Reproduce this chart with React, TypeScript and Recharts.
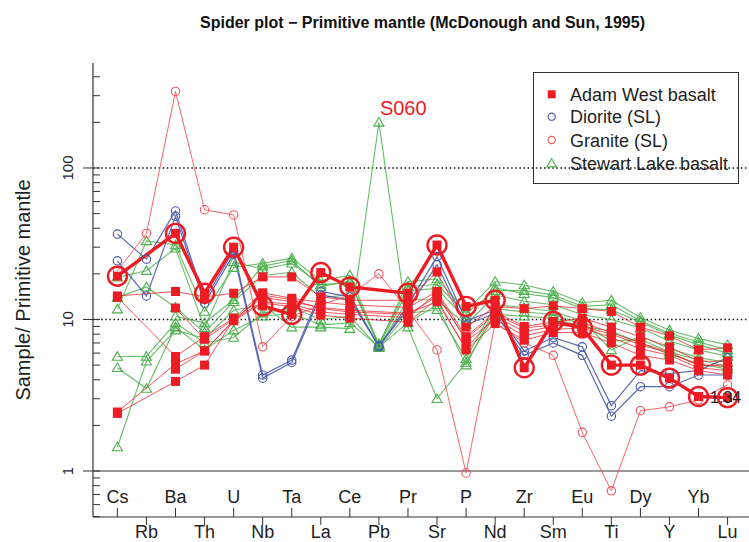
import React from 'react';
import { LineChart, Line, XAxis, YAxis, ReferenceLine, Legend, LabelList } from 'recharts';

// ---- categories (elements) ----
const elements = ['Cs', 'Rb', 'Ba', 'Th', 'U', 'Nb', 'Ta', 'La', 'Ce', 'Pb', 'Pr', 'Sr', 'P', 'Nd', 'Zr', 'Sm', 'Eu', 'Ti', 'Dy', 'Y', 'Yb', 'Lu'];

// ---- Stewart Lake basalt (green triangles) ----
const sl1 = [11.7, 33, 31, 11.3, 22, 23.5, 25.4, 18, 19.6, 6.8, 17.8, 18.5, 11.3, 17.8, 16.9, 15.3, 12.9, 13.4, 10.3, 8.5, 7.5, 6.8];
const sl2 = [19, 21, 29.5, 8.8, 24, 21.5, 23.5, 17, 17.5, 6.7, 15.5, 16, 10, 16.2, 14.8, 14, 11.8, 11.6, 9.6, 7.9, 6.8, 6.0];
const sl3 = [14, 16.4, 12, 8.2, 13.1, 19.5, 20.5, 14, 14.5, 6.6, 13.5, 13.5, 9.2, 14.5, 13.2, 12.5, 10.8, 10, 8.8, 7.2, 6.3, 5.7];
const sl4 = [5.7, 5.7, 9.5, 7.0, 7.6, 11, 12, 10, 10.5, 6.5, 11, 11.6, 5.5, 12.5, 12, 11.3, 9.8, 6.3, 7.8, 6.4, 5.6, 5.2];
const sl5 = [4.8, 3.5, 8.9, 6.3, 8.5, 10.5, 11, 9.2, 9.5, 6.6, 9.5, 12.5, 5.0, 11.8, 11.2, 10.8, 9.3, 7.2, 7.4, 6.1, 5.4, 4.9];
const slS060 = [1.44, 5.3, 8.5, 7.5, 11.5, 12.5, 8.9, 8.9, 8.7, 200, 8.9, 3.0, 5.2, 10.8, 10.5, 10.2, 9, 8.4, 7, 5.9, 5.1, 4.7];
const sl7 = [null, null, 10.5, 9.5, 13.5, 22.5, 24.5, 16.5, 18, 6.9, 16.5, 17, 11, 15.5, 15.5, 14.5, 12.2, 12.5, 9.8, 8.1, 7.1, 6.3];

// ---- Diorite (SL) (blue circles) ----
const di1 = [36.6, 25, 52, 13.5, 28.5, 4.3, 5.4, 15.3, 14.1, 6.6, 12.5, 26, 9.8, 11.5, 6.2, 7.6, 6.6, 2.7, 4.6, 4.4, 4.6, 5.6];
const di2 = [24.4, 14.3, 48, 12.8, 27, 4.1, 5.2, 14.5, 13.5, 6.7, 11.8, 23, 9.2, 11, 5.8, 7.0, 5.8, 2.3, 3.6, 3.6, 4.3, 4.3];

// ---- Granite (SL) (red open circles) ----
const gr1 = [21, 37, 320, 53, 49, 6.6, 10.5, 12.5, 14.5, 20, 11.5, 6.3, 0.97, 9.5, 7.0, 5.8, 1.8, 0.74, 2.5, 2.65, 2.95, 3.7];

// ---- Adam West basalt (red squares) ----
const aw1 = [14.3, null, 15.3, 14.1, 14.9, 19.1, 19.1, 14.1, 13.4, null, 13.4, 20.6, 8.9, 12.2, 11.8, 12.3, 11.8, 11.3, 8.9, 7.8, 6.3, 6.5];
const aw2 = [14.0, null, 5.7, 7.7, 10.2, 15.0, 13.8, 13.0, 12.5, null, 12.0, 15.3, 7.7, 11.2, 9.0, 9.6, 10.2, 8.9, 7.7, 6.6, 5.3, 5.3];
const aw3 = [2.4, null, 3.9, 5.0, 10.0, 14.0, 13.1, 12.0, 11.5, null, 11.0, 13.1, 6.45, 10.5, 8.3, 9.0, 9.5, 8.2, 7.0, 6.1, 5.0, 4.9];
const aw4 = [null, null, 11.9, 7.4, 10.0, 13.1, 12.6, 11.2, 10.8, null, 10.3, 15.0, 7.2, 10.0, 7.8, 8.6, 8.8, 7.6, 6.4, 5.8, 4.8, 4.6];
const aw5 = [2.45, null, 5.1, 6.2, 9.8, 12.8, 12.2, 10.7, 10.2, null, 9.6, 13.6, 6.3, 9.4, 7.3, 8.2, 8.2, 7.0, 5.8, 5.4, 4.6, 4.3];
const aw6 = [null, null, 4.7, 6.2, 9.9, 14.5, 13.5, 11.8, 11.2, null, 10.8, 14.2, 7.5, 10.8, 8.8, 9.2, 9.0, 8.0, 6.8, 6.0, 5.0, 5.0];
const awMarked = [19.3, null, 37, 14.9, 30, 12.3, 10.8, 20.4, 16.4, null, 14.9, 31, 12.2, 13.4, 4.8, 9.7, 8.8, 5.0, 5.0, 4.1, 3.1, 3.05];

// ---- labels / ticks ----
const spikeLabel = 'S060';
const endLabel = '1.34';
const yMajorTicks = [1, 10, 100];
const yMinorTicks = [0.5, 0.6, 0.7, 0.8, 0.9, 2, 3, 4, 5, 6, 7, 8, 9, 20, 30, 40, 50, 60, 70, 80, 90, 200, 300, 400];
const legendItems = ['Adam West basalt', 'Diorite (SL)', 'Granite (SL)', 'Stewart Lake basalt'];

const RED = '#ED1C24';
const GRAN = '#F0565D';
const BLUE = '#4A5AAA';
const GREEN = '#4FB04F';
const FONT = '"Liberation Sans", Arial, Helvetica, sans-serif';

const seriesDefs = [
  { key: 'sl1', values: sl1, group: 'sl' },
  { key: 'sl2', values: sl2, group: 'sl' },
  { key: 'sl3', values: sl3, group: 'sl' },
  { key: 'sl4', values: sl4, group: 'sl' },
  { key: 'sl5', values: sl5, group: 'sl' },
  { key: 'sl7', values: sl7, group: 'sl' },
  { key: 'slS060', values: slS060, group: 'sl' },
  { key: 'di1', values: di1, group: 'di' },
  { key: 'di2', values: di2, group: 'di' },
  { key: 'gr1', values: gr1, group: 'gr' },
  { key: 'aw1', values: aw1, group: 'aw' },
  { key: 'aw2', values: aw2, group: 'aw' },
  { key: 'aw3', values: aw3, group: 'aw' },
  { key: 'aw4', values: aw4, group: 'aw' },
  { key: 'aw5', values: aw5, group: 'aw' },
  { key: 'aw6', values: aw6, group: 'aw' },
  { key: 'awMarked', values: awMarked, group: 'awm' },
];

const rows = elements.map((el, i) => {
  const r: any = { x: i + 1, el };
  seriesDefs.forEach((s) => {
    r[s.key] = s.values[i];
  });
  return r;
});

const lineStyle: any = {
  sl: { stroke: GREEN, strokeWidth: 1.1, strokeOpacity: 0.85 },
  di: { stroke: BLUE, strokeWidth: 1.2, strokeOpacity: 0.9 },
  gr: { stroke: GRAN, strokeWidth: 1.0, strokeOpacity: 0.9 },
  aw: { stroke: RED, strokeWidth: 1.0, strokeOpacity: 0.75 },
  awm: { stroke: RED, strokeWidth: 3.4, strokeOpacity: 1 },
};

const tri = (cx: number, cy: number, s: number) =>
  `M${cx},${cy - s} L${cx + s * 1.05},${cy + s * 0.78} L${cx - s * 1.05},${cy + s * 0.78} Z`;

const makeDot = (group: string, key: string) => (props: any) => {
  const { cx, cy, index } = props;
  const k = `${key}-${index}`;
  if (cx == null || cy == null || Number.isNaN(cx) || Number.isNaN(cy)) return <g key={k} />;
  if (group === 'sl') return <path key={k} d={tri(cx, cy, 4.8)} fill="none" stroke={GREEN} strokeWidth={1.1} />;
  if (group === 'di') return <circle key={k} cx={cx} cy={cy} r={4.2} fill="none" stroke={BLUE} strokeWidth={1.1} />;
  if (group === 'gr') return <circle key={k} cx={cx} cy={cy} r={4.2} fill="none" stroke={GRAN} strokeWidth={1.1} />;
  if (group === 'aw') return <rect key={k} x={cx - 4.5} y={cy - 4.5} width={9} height={9} fill={RED} />;
  return (
    <g key={k}>
      <rect x={cx - 4.5} y={cy - 4.5} width={9} height={9} fill={RED} />
      <circle cx={cx} cy={cy} r={9.5} fill="none" stroke={RED} strokeWidth={2.4} />
    </g>
  );
};

const pos = (p: any) => {
  const x = p.x != null ? p.x : p.viewBox ? p.viewBox.x : 0;
  const y = p.y != null ? p.y : p.viewBox ? p.viewBox.y : 0;
  return { x, y };
};

const spikeIdx = elements.indexOf('Pb');
const endIdx = elements.indexOf('Lu');

const renderSpikeLabel = (p: any) => {
  if (p.index !== spikeIdx) return null;
  const { x, y } = pos(p);
  return (
    <text key="spk" x={x + 1} y={y - 7} fill={RED} fontSize={20} fontFamily={FONT}>
      {spikeLabel}
    </text>
  );
};

const renderEndLabel = (p: any) => {
  if (p.index !== endIdx) return null;
  const { x, y } = pos(p);
  return (
    <text key="end" x={x - 2} y={y + 5.5} fill="#222" fontSize={16} fontFamily={FONT} textAnchor="middle">
      {endLabel}
    </text>
  );
};

const renderXTick = (props: any) => {
  const { x, y, payload } = props;
  const i = Math.round(payload.value) - 1;
  const top = i % 2 === 0;
  return (
    <g>
      <line x1={x} x2={x} y1={top ? y - 9 : y} y2={top ? y : y + 8} stroke="#333" strokeWidth={1} />
      <text x={x} y={top ? y - 14 : y + 21} textAnchor="middle" fontSize={18} fill="#1e1e1e" fontFamily={FONT}>
        {elements[i]}
      </text>
    </g>
  );
};

const renderYTick = (props: any) => {
  const { x, y, payload } = props;
  const v = payload.value;
  const major = yMajorTicks.indexOf(v) >= 0;
  return (
    <g>
      <line x1={major ? x - 10 : x} x2={x + 7} y1={y} y2={y} stroke="#333" strokeWidth={1} />
      {major && (
        <text
          x={x - 25}
          y={y}
          transform={`rotate(-90 ${x - 25} ${y})`}
          textAnchor="middle"
          dominantBaseline="central"
          fontSize={15}
          fill="#1e1e1e"
          fontFamily={FONT}
        >
          {v}
        </text>
      )}
    </g>
  );
};

const renderYLabel = (props: any) => {
  const vb = props.viewBox || { x: 33, y: 63, width: 60, height: 454 };
  const cx = vb.x - 10;
  const cy = vb.y + vb.height / 2;
  return (
    <text
      x={cx}
      y={cy}
      transform={`rotate(-90 ${cx} ${cy})`}
      textAnchor="middle"
      dominantBaseline="central"
      fontSize={20}
      fill="#1e1e1e"
      fontFamily={FONT}
    >
      Sample/ Primitive mantle
    </text>
  );
};

const renderLegend = () => {
  const rowsY = [22.3, 44.7, 68, 91.3];
  const sx = 18.7;
  return (
    <svg width={206} height={112} style={{ display: 'block' }}>
      <rect x={0.5} y={0.5} width={205} height={111} fill="none" stroke="#333" strokeWidth={1} />
      <rect x={sx - 4} y={rowsY[0] - 4} width={8} height={8} fill={RED} />
      <circle cx={sx} cy={rowsY[1]} r={3.6} fill="none" stroke={BLUE} strokeWidth={1.1} />
      <circle cx={sx} cy={rowsY[2]} r={3.6} fill="none" stroke={GRAN} strokeWidth={1.1} />
      <path d={tri(sx, rowsY[3], 4.6)} fill="none" stroke={GREEN} strokeWidth={1.1} />
      {legendItems.map((t, i) => (
        <text key={t} x={37} y={rowsY[i] + 6.5} fontSize={18} fill="#1e1e1e" fontFamily={FONT}>
          {t}
        </text>
      ))}
    </svg>
  );
};

const X_DOMAIN = [0.16, 22.84];
const xTicks = elements.map((_, i) => i + 1);
const yTicks = [...yMinorTicks, ...yMajorTicks].sort((a, b) => a - b);

export default function App() {
  return (
    <div
      style={{
        position: 'absolute',
        left: 0,
        top: 0,
        width: 749,
        height: 542,
        overflow: 'hidden',
        background: '#fff',
        fontFamily: FONT,
      }}
    >
      <LineChart width={760} height={542} data={rows} margin={{ top: 63, right: 8, bottom: 0, left: 33 }}>
        <XAxis
          dataKey="x"
          type="number"
          domain={X_DOMAIN}
          ticks={xTicks}
          interval={0}
          tickSize={0}
          tickMargin={0}
          tickLine={false}
          tick={renderXTick}
          axisLine={{ stroke: '#333', strokeWidth: 1.2 }}
          height={25}
          allowDataOverflow
        />
        <XAxis
          xAxisId="top"
          orientation="top"
          dataKey="x"
          type="number"
          domain={X_DOMAIN}
          tick={false}
          tickLine={false}
          axisLine={{ stroke: '#333', strokeWidth: 1.2 }}
          height={0}
          allowDataOverflow
        />
        <YAxis
          type="number"
          scale="log"
          domain={[0.497, 493]}
          allowDataOverflow
          ticks={yTicks}
          interval={0}
          tickSize={0}
          tickMargin={0}
          tickLine={false}
          tick={renderYTick}
          axisLine={{ stroke: '#333', strokeWidth: 1.2 }}
          width={60}
          label={renderYLabel}
        />
        <ReferenceLine y={1} stroke="#333" strokeWidth={1.2} />
        <ReferenceLine y={10} stroke="#111" strokeWidth={1.4} strokeDasharray="1.5 2.6" />
        <ReferenceLine y={100} stroke="#111" strokeWidth={1.4} strokeDasharray="1.5 2.6" />
        <Legend
          layout="horizontal"
          verticalAlign="middle"
          align="center"
          content={renderLegend}
          wrapperStyle={{ left: 533, top: 72, width: 206, height: 112 }}
        />
        {seriesDefs.map((s) => (
          <Line
            key={s.key}
            dataKey={s.key}
            type="linear"
            connectNulls
            isAnimationActive={false}
            dot={makeDot(s.group, s.key)}
            activeDot={false}
            legendType="none"
            {...lineStyle[s.group]}
          >
            {s.key === 'slS060' && <LabelList dataKey={s.key} content={renderSpikeLabel} />}
            {s.key === 'awMarked' && <LabelList dataKey={s.key} content={renderEndLabel} />}
          </Line>
        ))}
      </LineChart>
      <div
        style={{
          position: 'absolute',
          left: 93,
          width: 659,
          top: 13,
          textAlign: 'center',
          fontWeight: 'bold',
          fontSize: 16,
          lineHeight: '20px',
          color: '#111',
          fontFamily: FONT,
        }}
      >
        Spider plot − Primitive mantle (McDonough and Sun, 1995)
      </div>
    </div>
  );
}
